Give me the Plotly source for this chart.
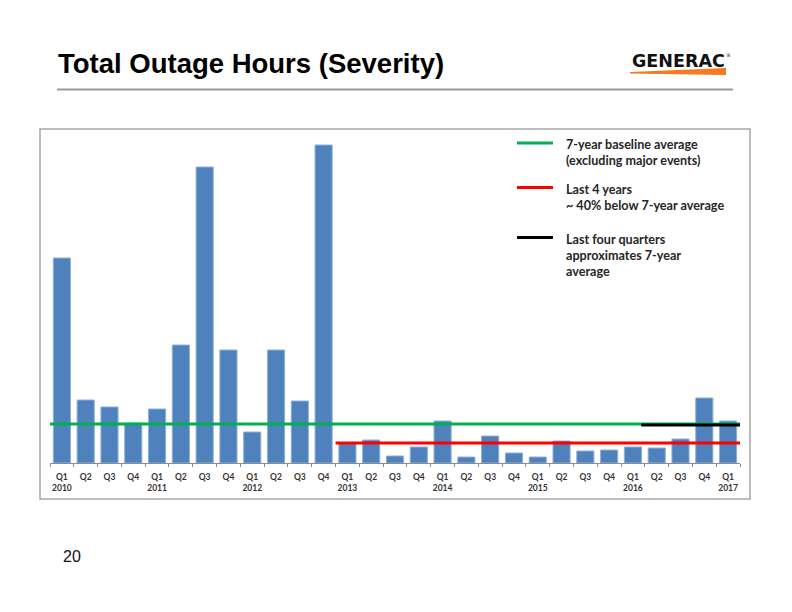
import plotly.graph_objects as go

# ---------------- data ----------------
quarters = ["Q1", "Q2", "Q3", "Q4"] * 7 + ["Q1"]
years = [str(y) for y in range(2010, 2017) for _ in range(4)] + ["2017"]
categories = [f"{y} {q}" for y, q in zip(years, quarters)]
tick_labels = [f"<b>{q}</b><br><b>{y}</b>" if q == "Q1" else f"<b>{q}</b>"
               for q, y in zip(quarters, years)]

# total outage hours (relative scale)
outage_hours = [205, 63, 56, 40,
                54, 118, 296, 113,
                31, 113, 62, 318,
                20, 23, 7, 16,
                42, 6, 27, 10,
                6, 22, 12, 13,
                16, 15, 24, 65,
                42]

baseline_avg = 39        # 7-year baseline average (excl. major events)
last4y_avg = 20          # last 4 years
last4q_avg = 38          # last four quarters
last4y_start = 12        # index of Q1 2013
last4q_start = 24.85     # approx. start of black segment

legend_items = [
    ("#00B050", ["7-year baseline average", "(excluding major events)"]),
    ("#FF0000", ["Last 4 years", "~ 40% below 7-year average"]),
    ("#000000", ["Last four quarters", "approximates 7-year", "average"]),
]

# ---------------- layout helpers ----------------
W, H = 792, 612
PL, PR, PT, PB = 50, 740, 135, 463   # plot area in pixels


def px(x):
    return (x - PL) / (PR - PL)


def py(y):
    return (PB - y) / (PB - PT)


fig = go.Figure()
fig.add_trace(go.Bar(
    x=categories, y=outage_hours,
    marker=dict(color="#4F81BD", line=dict(color="#8DB0DC", width=1)),
    showlegend=False, hoverinfo="x+y",
))

shapes = []
# chart border box
shapes.append(dict(type="rect", xref="paper", yref="paper",
                   x0=px(40), x1=px(750), y0=py(499), y1=py(129),
                   line=dict(color="#A6A6A6", width=1.5), layer="below"))
# title rule
shapes.append(dict(type="line", xref="paper", yref="paper",
                   x0=px(57), x1=px(733), y0=py(89.5), y1=py(89.5),
                   line=dict(color="#9A9A9A", width=2)))
# average lines
n = len(categories)
shapes.append(dict(type="line", xref="x", yref="y", x0=-0.5, x1=n - 0.5,
                   y0=baseline_avg, y1=baseline_avg,
                   line=dict(color="#00B050", width=3)))
shapes.append(dict(type="line", xref="x", yref="y", x0=last4y_start - 0.5, x1=n - 0.5,
                   y0=last4y_avg, y1=last4y_avg,
                   line=dict(color="#FF0000", width=3)))
shapes.append(dict(type="line", xref="x", yref="y", x0=last4q_start - 0.5, x1=n - 0.5,
                   y0=last4q_avg, y1=last4q_avg,
                   line=dict(color="#000000", width=3)))

# legend
annotations = []
legend_y = [143, 187.5, 237.5]
for (color, lines), ly in zip(legend_items, legend_y):
    shapes.append(dict(type="line", xref="paper", yref="paper",
                       x0=px(517), x1=px(553), y0=py(ly), y1=py(ly),
                       line=dict(color=color, width=3)))
    for i, t in enumerate(lines):
        annotations.append(dict(xref="paper", yref="paper", x=px(564), y=py(ly + 1.5 + 16 * i),
                                text=f"<b>{t}</b>", showarrow=False,
                                xanchor="left", yanchor="middle",
                                font=dict(family="Lato", size=12.6, color="#262626")))

# title
annotations.append(dict(xref="paper", yref="paper", x=px(56), y=py(64),
                        text="<b>Total Outage Hours (Severity)</b>", showarrow=False,
                        xanchor="left", yanchor="middle",
                        font=dict(family="Liberation Sans", size=27.5, color="#000000")))
# logo
annotations.append(dict(xref="paper", yref="paper", x=px(630), y=py(60.5),
                        text="<b>GENERAC</b>", showarrow=False,
                        xanchor="left", yanchor="middle",
                        font=dict(family="DejaVu Sans", size=17.5, color="#111111")))
annotations.append(dict(xref="paper", yref="paper", x=px(724), y=py(55),
                        text="®", showarrow=False, xanchor="left", yanchor="middle",
                        font=dict(family="DejaVu Sans", size=5, color="#111111")))
shapes.append(dict(type="path", xref="paper", yref="paper",
                   path=(f"M {px(630)} {py(72)} L {px(726)} {py(68)} "
                         f"L {px(726)} {py(75)} L {px(630)} {py(73.5)} Z"),
                   fillcolor="#F47920", line=dict(width=0)))
# page number
annotations.append(dict(xref="paper", yref="paper", x=px(61), y=py(556),
                        text="20", showarrow=False, xanchor="left", yanchor="middle",
                        font=dict(family="Liberation Sans", size=16, color="#111111")))

fig.update_layout(
    width=W, height=H,
    margin=dict(l=PL, r=W - PR, t=PT, b=H - PB, pad=0),
    paper_bgcolor="white", plot_bgcolor="white",
    bargap=0.28,
    shapes=shapes, annotations=annotations,
    xaxis=dict(type="category", tickmode="array", tickvals=categories, ticktext=tick_labels,
               showline=True, linecolor="#8C8C8C", linewidth=1,
               ticks="outside", tickson="boundaries", ticklen=3, tickcolor="#8C8C8C",
               ticklabelstandoff=6,
               tickfont=dict(family="Lato", size=8.5, color="#333333"),
               tickangle=0, showgrid=False, zeroline=False, range=[-0.5, n - 0.5]),
    yaxis=dict(range=[0, PB - PT], visible=False, showgrid=False, zeroline=False),
)

fig.write_html("out.html")
